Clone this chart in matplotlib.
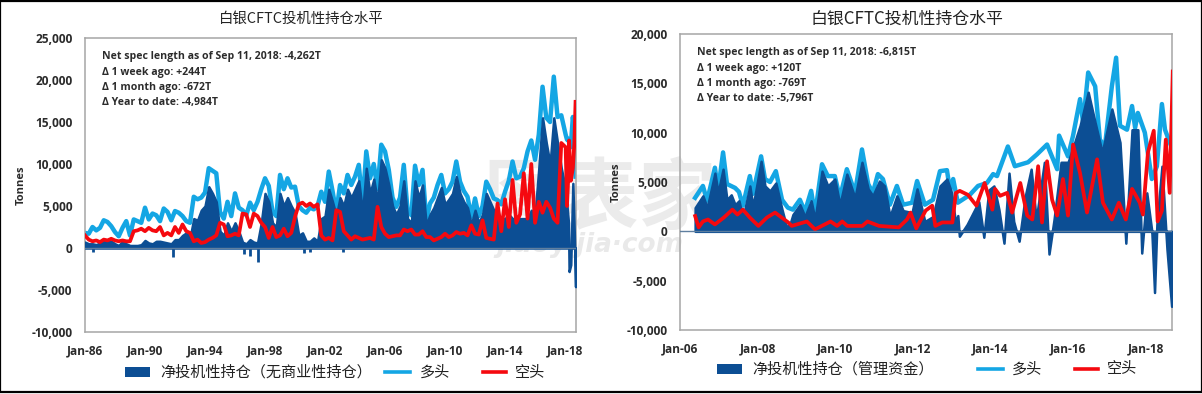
import matplotlib
matplotlib.use('Agg')
import matplotlib.pyplot as plt
from matplotlib.patches import Rectangle
from matplotlib.lines import Line2D
import numpy as np

plt.rcParams['font.family'] = ['Noto Sans CJK SC', 'DejaVu Sans']

# left chart: quarterly 1986-2017, then the last months of 2018
left_end_years = [2018.04, 2018.13, 2018.23, 2018.27, 2018.38, 2018.52, 2018.62, 2018.7]
left_years = list(np.arange(1986, 2018, 0.25)) + left_end_years

left_long = [
    1800, 1700, 2500, 2100, 2400, 3300, 3100, 2600, 1900, 1400, 2400, 3200,
    1500, 3400, 3200, 3000, 4800, 3400, 4100, 3900, 3200, 4700, 4300, 3300,
    4400, 4200, 3800, 3200, 3000, 6100, 5800, 6000, 6600, 9500, 9200, 8900,
    4300, 3500, 5500, 3800, 6500, 4800, 4500, 3900, 5400, 4500, 5500, 7000,
    8300, 7400, 4300, 3800, 8700, 7000, 8300, 7200, 7300, 5000, 4500, 4200,
    4800, 4600, 5000, 6700, 5500, 9100, 6800, 4200, 7500, 6500, 8700, 7500,
    8500, 9900, 5200, 11500, 8300, 10000, 7000, 12300, 11500, 9300, 6000, 4900,
    6000, 9900, 4500, 3900, 9800, 7500, 9300, 3300, 5300, 6000, 7500, 8700,
    6500, 7000, 7900, 10300, 7900, 6800, 6100, 3700, 5900, 3800, 5000, 7900,
    7000, 5900, 5700, 5200, 6700, 8000, 10300, 8300, 8500, 9500, 11500, 12800,
    10500, 13500, 19200, 15500, 15000, 20400, 15600, 15800,
    13500, 12900, 13000, 12500, 12000, 15600, 14000, 8500]

left_net = [
    700, 500, 500, 400, 600, 1000, 800, 800, 500, 300, 800, 500,
    300, 300, 300, 400, 900, 600, 500, 800, 800, 700, 600, 500,
    1000, 1000, 1500, 1800, 1200, 3500, 3300, 4500, 5000, 7300, 6500, 5500,
    2000, 1500, 3000, 2000, 3000, 2000, 700, 500, 1000, 700, 600, 3000,
    6500, 5500, 3000, 2500, 6500, 5000, 6000, 5000, 4200, 1500, 1800, 800,
    800, 1200, 800, 3500, 3800, 7000, 5500, 3800, 6000, 5000, 7000, 6000,
    7000, 8000, 4200, 9500, 6500, 8200, 5500, 10500, 9500, 7500, 5000, 4000,
    5000, 8000, 3500, 3000, 8000, 6000, 7500, 2700, 4000, 4800, 6000, 7200,
    5200, 5800, 6500, 8500, 6500, 5500, 4800, 2800, 4500, 3000, 4000, 6500,
    5500, 4500, 3500, 3500, 3500, 4000, 3500, 3500, 3500, 3500, 3500, 4500,
    4000, 9500, 15500, 12500, 10000, 15500, 12500, 9500,
    7000, 5000, 3000, -2800, -2000, 7700, 1500, -4600]

# short-lived net short weeks that a quarterly step would miss
left_dip_years = [1986.5, 1991.87, 1996.6, 1997.0, 1997.5, 2000.6, 2001.0, 2003.2]
left_dips = [-500, -1100, -700, -900, -1700, -600, -500, -500]

left_short = [
    1500, 1000, 800, 900, 700, 1000, 900, 1100, 900, 800, 900, 800,
    800, 2000, 2100, 2300, 2000, 2400, 2100, 2000, 2500, 1500, 1800, 1500,
    2500, 1800, 2800, 2000, 1800, 800, 1000, 600, 700, 1000, 1200, 1500,
    3000, 2800, 1400, 1500, 1700, 1500, 4100, 4000, 2500, 4100, 3800, 3000,
    2500, 1200, 2500, 1300, 1500, 2300, 1400, 1800, 3700, 5200, 5400, 5000,
    5300, 4900, 5200, 1500, 1000, 1200, 900, 4500, 4300, 2000, 1500, 1000,
    1400, 1200, 1000, 1100, 1200, 1000, 4900, 2500, 1700, 1300, 1400, 1500,
    1500, 2200, 2000, 2200, 1600, 1600, 2000, 1300, 1300, 900, 1100, 1300,
    1700, 1300, 1500, 1900, 1700, 1800, 1500, 2700, 1700, 1600, 3300, 1200,
    1100, 1000, 5300, 2000, 5800, 2500, 8100, 3000, 4000, 8900, 3500, 10000,
    3000, 5500, 4200, 5500, 4800, 3500, 3000, 12500,
    12000, 5000, 9000, 12800, 8000, 9500, 12500, 17400]

# right chart: dates, decimal years
right_long_years = [
    2006.39, 2006.59, 2006.70, 2006.90, 2006.98, 2007.11, 2007.21, 2007.42, 2007.52, 2007.62,
    2007.80, 2007.88, 2008.09, 2008.19, 2008.32, 2008.47, 2008.63, 2008.78, 2008.91, 2009.09,
    2009.22, 2009.38, 2009.48, 2009.66, 2009.81, 2009.99, 2010.12, 2010.30, 2010.51, 2010.69,
    2010.85, 2010.97, 2011.10, 2011.23, 2011.41, 2011.59, 2011.75, 2011.98, 2012.11, 2012.31,
    2012.52, 2012.70, 2012.88, 2012.96, 2013.04, 2013.16, 2013.47, 2013.68, 2013.91, 2014.07,
    2014.17, 2014.45, 2014.63, 2014.97, 2015.20, 2015.46, 2015.72, 2015.77, 2016.00, 2016.13,
    2016.31, 2016.39, 2016.52, 2016.70, 2016.82, 2016.95, 2017.13, 2017.24, 2017.34, 2017.52,
    2017.65, 2017.73, 2017.80, 2017.98, 2018.16, 2018.29, 2018.42, 2018.50, 2018.67]
right_long = [
    3400, 4600, 3100, 6450, 4100, 8000, 4800, 4400, 4000, 2600,
    5600, 3800, 7600, 5300, 5000, 6100, 3200, 2400, 2200, 3200,
    2000, 4100, 1700, 6800, 5600, 5600, 3400, 6300, 3900, 8300,
    4800, 3900, 5800, 5300, 2700, 4600, 2700, 2900, 5100, 2700,
    3200, 6100, 6200, 4100, 5300, 2900, 3700, 4600, 4900, 5800,
    5600, 8600, 6600, 7000, 7800, 8800, 6300, 9700, 7600, 9700,
    13400, 11000, 16100, 14700, 9300, 8600, 14700, 17600, 10700, 10300,
    12700, 10500, 12000, 10000, 5300, 6600, 12900, 10300, 8500]

right_net_years = [
    2006.39, 2006.59, 2006.70, 2006.90, 2006.98, 2007.11, 2007.21, 2007.32, 2007.42, 2007.52,
    2007.62, 2007.80, 2007.88, 2008.09, 2008.19, 2008.32, 2008.47, 2008.63, 2008.75, 2008.84,
    2008.91, 2009.09, 2009.22, 2009.38, 2009.48, 2009.66, 2009.81, 2009.99, 2010.12, 2010.30,
    2010.51, 2010.69, 2010.85, 2010.97, 2011.14, 2011.27, 2011.41, 2011.59, 2011.75, 2011.98,
    2012.11, 2012.31, 2012.52, 2012.70, 2012.88, 2013.00, 2013.10, 2013.16, 2013.20, 2013.40,
    2013.70, 2013.83, 2013.96, 2014.09, 2014.22, 2014.35, 2014.48, 2014.60, 2014.74, 2014.90,
    2015.05, 2015.18, 2015.39, 2015.51, 2015.64, 2015.82, 2016.00, 2016.13, 2016.31, 2016.52,
    2016.70, 2016.88, 2017.13, 2017.34, 2017.49, 2017.65, 2017.80, 2017.90, 2018.03, 2018.16,
    2018.23, 2018.29, 2018.42, 2018.55, 2018.67]
right_net = [
    2400, 3600, 2400, 5900, 3900, 6300, 3200, 3700, 2700, 3100,
    1300, 4600, 2500, 7100, 4600, 4100, 4900, 2200, 400, 800,
    1700, 2700, 1500, 3100, 1200, 6100, 4600, 5300, 2700, 5800,
    3400, 7000, 4300, 3600, 5100, 4600, 1500, 3600, 2100, 1900,
    4300, 1000, 1500, 4600, 5300, 3900, 900, 1600, -500, 700,
    3000, -600, 4200, 4600, 2200, -1200, 5900, 1000, -1000, 3600,
    6300, 1200, 7000, -2300, 1200, 7000, 7000, 8500, 10700, 14100,
    11000, 8000, 12400, 9000, -1200, 10300, 10300, -2200, 3900, 0,
    -6200, 700, 6600, -1800, -7600]

right_short_years = [
    2006.39, 2006.48, 2006.59, 2006.72, 2006.90, 2007.13, 2007.35, 2007.48, 2007.62, 2007.80,
    2008.02, 2008.24, 2008.45, 2008.62, 2008.79, 2008.88, 2009.27, 2009.48, 2009.88, 2010.05,
    2010.18, 2010.31, 2010.44, 2010.70, 2010.83, 2011.13, 2011.64, 2011.85, 2011.94, 2012.09,
    2012.33, 2012.50, 2012.58, 2012.76, 2013.02, 2013.11, 2013.21, 2013.42, 2013.64, 2013.85,
    2014.05, 2014.12, 2014.25, 2014.43, 2014.56, 2014.77, 2014.95, 2015.08, 2015.23, 2015.33,
    2015.46, 2015.59, 2015.72, 2015.87, 2016.00, 2016.13, 2016.31, 2016.49, 2016.75, 2016.90,
    2017.13, 2017.31, 2017.49, 2017.65, 2017.85, 2017.93, 2018.06, 2018.21, 2018.31, 2018.42,
    2018.52, 2018.62, 2018.70]
right_short = [
    1550, 400, 1000, 1200, 700, 1400, 2200, 1700, 2200, 1400,
    550, 1400, 1900, 1400, 900, 550, 1000, 200, 1000, 550,
    1000, 550, 550, 550, 1000, 550, 400, 1200, 1900, 300,
    2100, 2600, 550, 900, 900, 3900, 4100, 3700, 2600, 4900,
    2200, 4300, 3600, 3900, 1900, 4900, 1600, 1200, 6600, 900,
    7100, 3200, 1600, 5300, 1600, 8800, 5900, 1900, 7300, 2900,
    1200, 2900, 1200, 4300, 2900, 1700, 8000, 10200, 1000, 2100,
    9300, 3900, 16200]

left_stats = ['Net spec length as of Sep 11, 2018: -4,262T', 'Δ 1 week ago: +244T',
              'Δ 1 month ago: -672T', 'Δ Year to date: -4,984T']
right_stats = ['Net spec length as of Sep 11, 2018: -6,815T', 'Δ 1 week ago: +120T',
               'Δ 1 month ago: -769T', 'Δ Year to date: -5,796T']

left_ticks = [1986, 1990, 1994, 1998, 2002, 2006, 2010, 2014, 2018]
left_ticklabels = ['Jan-86', 'Jan-90', 'Jan-94', 'Jan-98', 'Jan-02', 'Jan-06', 'Jan-10', 'Jan-14', 'Jan-18']
right_ticks = [2006, 2008, 2010, 2012, 2014, 2016, 2018]
right_ticklabels = ['Jan-06', 'Jan-08', 'Jan-10', 'Jan-12', 'Jan-14', 'Jan-16', 'Jan-18']

title = '白银CFTC投机性持仓水平'
left_net_label = '净投机性持仓（无商业性持仓）'
right_net_label = '净投机性持仓（管理资金）'

NAVY = '#0C4E94'
CYAN = '#14A6E4'
RED = '#F5090F'
GRAY = '#A6A6A6'
TEXT = '#2B2B2B'
W, H = 1202, 394


def px_x(x):
    return x / W


def px_y(y):
    return 1 - y / H


def draw_legend(y, patch_x, net_label, net_text_x, long_x, long_text_x, short_x, short_text_x):
    fig.add_artist(Rectangle((px_x(patch_x), px_y(y + 5)), 25 / W, 10 / H, transform=fig.transFigure,
                             facecolor=NAVY, edgecolor='none'))
    fig.text(px_x(net_text_x), px_y(y), net_label, ha='left', va='center', fontsize=10.9, color='#222222')
    fig.add_artist(Line2D([px_x(long_x), px_x(long_x + 25)], [px_y(y), px_y(y)], color=CYAN, lw=2.6,
                          transform=fig.transFigure))
    fig.text(px_x(long_text_x), px_y(y), '多头', ha='left', va='center', fontsize=10.9, color='#222222')
    fig.add_artist(Line2D([px_x(short_x), px_x(short_x + 23)], [px_y(y), px_y(y)], color=RED, lw=2.6,
                          transform=fig.transFigure))
    fig.text(px_x(short_text_x), px_y(y), '空头', ha='left', va='center', fontsize=10.9, color='#222222')


def draw_panel(box, xlim, ylim, yticks, net_x, net, long_x, long_, short_x, short,
               ticks, ticklabels, stats):
    x0, x1, ytop, ybot = box
    ax = fig.add_axes([x0 / W, 1 - ybot / H, (x1 - x0) / W, (ybot - ytop) / H], zorder=2)
    ax.plot(long_x, long_, color=CYAN, lw=3.2, zorder=2)
    ax.fill_between(net_x, net, 0, color=NAVY, lw=1.8, zorder=3)
    ax.plot(short_x, short, color=RED, lw=2.7, zorder=4)
    ax.axhline(0, color='#5F7F9F', lw=1, zorder=5)

    ax.set_xlim(xlim)
    ax.set_ylim(ylim)
    ax.set_yticks(yticks)
    ax.set_yticklabels([f'{v:,}' for v in yticks])
    ax.set_xticks(ticks)
    ax.set_xticklabels(ticklabels)
    ax.tick_params(axis='y', length=0, labelsize=8.6, labelcolor=TEXT, pad=9)
    ax.tick_params(axis='x', length=0, labelsize=8.6, labelcolor=TEXT, pad=9)
    for lab in ax.get_xticklabels() + ax.get_yticklabels():
        lab.set_family('Open Sans')
        lab.set_fontweight('bold')
    ax.patch.set_alpha(0)
    for sp in ax.spines.values():
        sp.set_color(GRAY)
        sp.set_linewidth(1.1)

    ax.set_ylabel('Tonnes', family='Open Sans', fontweight='bold', fontsize=8, color=TEXT, labelpad=3)

    for i, s in enumerate(stats):
        ax.text(17 / (x1 - x0), 1 - (19 + i * 15.2) / (ybot - ytop), s, transform=ax.transAxes,
                ha='left', va='center', family=['Open Sans', 'DejaVu Sans'], fontweight='bold',
                fontsize=7.6, color=TEXT)
    return ax


fig = plt.figure(figsize=(W / 100, H / 100), dpi=100, facecolor='white')

# watermark sits behind both charts
fig.text(px_x(600), px_y(200), '图表家', ha='center', va='center', fontsize=56,
         color='#EBEBEB', fontweight='bold', style='italic', zorder=0)
fig.text(px_x(590), px_y(245), 'jiaoyijia·com', ha='center', va='center', fontsize=19,
         family='DejaVu Sans', color='#E9E9E9', fontweight='bold', style='italic', zorder=0)

left_ax = draw_panel((85, 576, 38, 332), (1986, 2018.73), (-10000, 25000),
                     [-10000, -5000, 0, 5000, 10000, 15000, 20000, 25000],
                     left_years, left_net, left_years, left_long, left_years, left_short,
                     left_ticks, left_ticklabels, left_stats)
left_ax.vlines(left_dip_years, left_dips, 0, color=NAVY, lw=2, zorder=3)

draw_panel((680, 1172, 34, 330), (2006, 2018.68), (-10000, 20000),
           [-10000, -5000, 0, 5000, 10000, 15000, 20000],
           right_net_years, right_net, right_long_years, right_long, right_short_years, right_short,
           right_ticks, right_ticklabels, right_stats)

fig.text(px_x(301), px_y(19), title, ha='center', va='center', fontsize=10.4, color='#222222')
fig.text(px_x(907), px_y(19), title, ha='center', va='center', fontsize=12.2, color='#222222')

draw_legend(372, 125, left_net_label, 160, 385, 420, 483, 515)
draw_legend(369, 717, right_net_label, 752, 978, 1012, 1075, 1107)

# black frame of the screenshot
fig.add_artist(Rectangle((0, 2 / H), 1, 1 - 2.5 / H, transform=fig.transFigure, fill=False,
                         edgecolor='black', lw=1.6))

plt.savefig('out.png', dpi=100)
plt.close(fig)
